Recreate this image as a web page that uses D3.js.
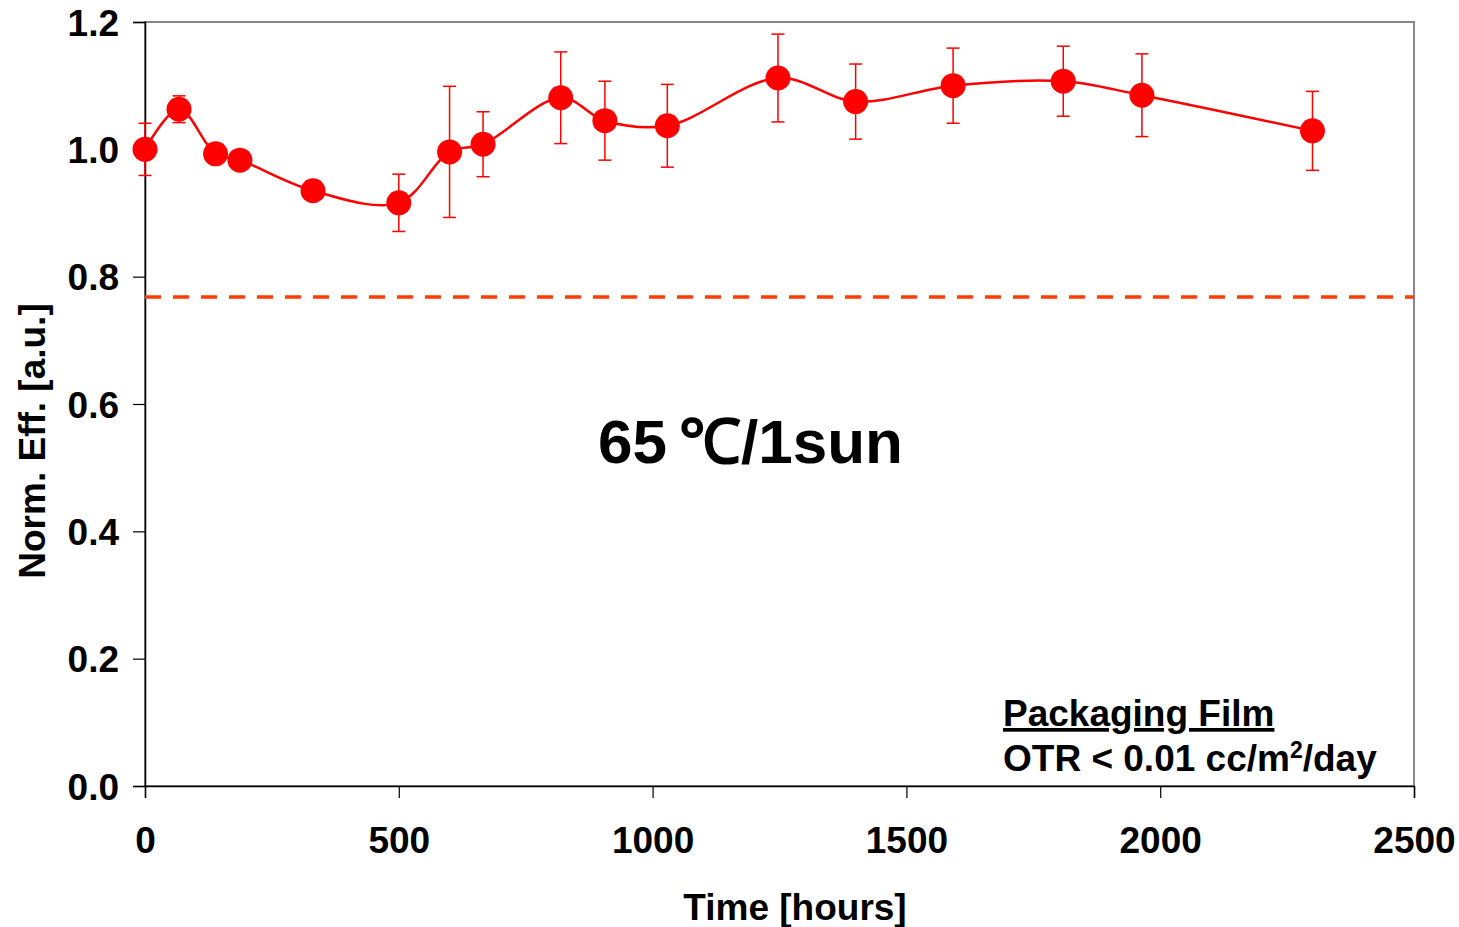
<!DOCTYPE html>
<html>
<head>
<meta charset="utf-8">
<script src="https://cdn.jsdelivr.net/npm/d3@7"></script>
<style>
  body { margin: 0; background: #fff; }
  text { font-family: "Liberation Sans", Arial, sans-serif; font-weight: bold; }
</style>
</head>
<body>
<script>
const width = 1459;
const height = 927;

// Data
const hours = [0, 67, 139, 187, 331, 500, 600, 666, 819, 906, 1029, 1247, 1400, 1592, 1809, 1964, 2300];
const normEff = [1.000, 1.063, 0.993, 0.983, 0.935, 0.916, 0.996, 1.008, 1.081, 1.045, 1.037, 1.112, 1.075, 1.100, 1.107, 1.085, 1.029];
const errors = [0.041, 0.021, 0.010, 0.010, 0.010, 0.045, 0.103, 0.051, 0.072, 0.062, 0.065, 0.069, 0.059, 0.059, 0.055, 0.065, 0.062];
const thresholdValue = [0.768];
const xTicks = [0, 500, 1000, 1500, 2000, 2500];
const yTicks = [0, 0.2, 0.4, 0.6, 0.8, 1.0, 1.2];

const points = hours.map((h, i) => ({ x: h, y: normEff[i], e: errors[i] }));

const margin = { top: 22, right: 45, bottom: 141, left: 145 };

const svg = d3.select("body")
  .append("svg")
  .attr("width", width)
  .attr("height", height);

const x = d3.scaleLinear().domain([0, 2500]).range([margin.left, width - margin.right]);
const y = d3.scaleLinear().domain([0, 1.2]).range([height - margin.bottom, margin.top]);

// Plot frame (gray top/right)
svg.append("rect")
  .attr("x", x(0))
  .attr("y", y(1.2))
  .attr("width", x(2500) - x(0))
  .attr("height", y(0) - y(1.2))
  .attr("fill", "none")
  .attr("stroke", "#888")
  .attr("stroke-width", 2);

// Axes
const xAxis = svg.append("g")
  .attr("transform", `translate(0,${y(0)})`)
  .call(d3.axisBottom(x).tickValues(xTicks).tickSize(12).tickPadding(29).tickFormat(d3.format("d")));

const yAxis = svg.append("g")
  .attr("transform", `translate(${x(0)},0)`)
  .call(d3.axisLeft(y).tickValues(yTicks).tickSize(12).tickPadding(14).tickFormat(d3.format(".1f")));

[xAxis, yAxis].forEach(g => {
  g.select(".domain").attr("stroke", "#000").attr("stroke-width", 1.5);
  g.selectAll(".tick line").attr("stroke", "#000").attr("stroke-width", 1.2);
  g.selectAll(".tick text")
    .attr("fill", "#000")
    .style("font-size", "37px")
    .style("font-family", "'Liberation Sans', Arial, sans-serif")
    .style("font-weight", "bold");
});
yAxis.selectAll(".tick text").attr("dy", "0.36em");

// Axis titles
svg.append("text")
  .attr("x", 795)
  .attr("y", 920)
  .attr("text-anchor", "middle")
  .style("font-size", "37px")
  .text("Time [hours]");

svg.append("text")
  .attr("transform", "translate(45,441) rotate(-90)")
  .attr("text-anchor", "middle")
  .style("font-size", "37px")
  .text("Norm. Eff. [a.u.]");

// Threshold dashed line
svg.selectAll(".threshold")
  .data(thresholdValue)
  .enter()
  .append("line")
  .attr("class", "threshold")
  .attr("x1", x(0))
  .attr("x2", x(2500))
  .attr("y1", d => y(d))
  .attr("y2", d => y(d))
  .attr("stroke", "#ff3c00")
  .attr("stroke-width", 3.5)
  .attr("stroke-dasharray", "16,12");

// Error bars
const eb = svg.append("g").attr("stroke", "#ff0000").attr("stroke-width", 1.5);
points.forEach(p => {
  eb.append("line")
    .attr("x1", x(p.x)).attr("x2", x(p.x))
    .attr("y1", y(p.y - p.e)).attr("y2", y(p.y + p.e));
  [p.y - p.e, p.y + p.e].forEach(v => {
    eb.append("line")
      .attr("x1", x(p.x) - 6.5).attr("x2", x(p.x) + 6.5)
      .attr("y1", y(v)).attr("y2", y(v));
  });
});

// Smoothed line
const line = d3.line()
  .x(d => x(d.x))
  .y(d => y(d.y))
  .curve(d3.curveCatmullRom.alpha(0.5));

svg.append("path")
  .datum(points)
  .attr("d", line)
  .attr("fill", "none")
  .attr("stroke", "#ff0000")
  .attr("stroke-width", 2.5);

// Markers
svg.selectAll(".pt")
  .data(points)
  .enter()
  .append("circle")
  .attr("class", "pt")
  .attr("cx", d => x(d.x))
  .attr("cy", d => y(d.y))
  .attr("r", 12.5)
  .attr("fill", "#ff0000");

// Annotations
const title = svg.append("text")
  .attr("x", 598)
  .attr("y", 463)
  .style("font-size", "62px");
title.append("tspan").text("65");
title.append("tspan").attr("dx", 12).text("℃/1sun");

svg.append("text")
  .attr("x", 1003)
  .attr("y", 726)
  .style("font-size", "37px")
  .style("text-decoration", "underline")
  .text("Packaging Film");

const otr = svg.append("text")
  .attr("x", 1003)
  .attr("y", 771)
  .style("font-size", "37px");
otr.append("tspan").text("OTR < 0.01 cc/m");
otr.append("tspan").attr("dy", -13).style("font-size", "23px").text("2");
otr.append("tspan").attr("dy", 13).text("/day");
</script>
</body>
</html>
